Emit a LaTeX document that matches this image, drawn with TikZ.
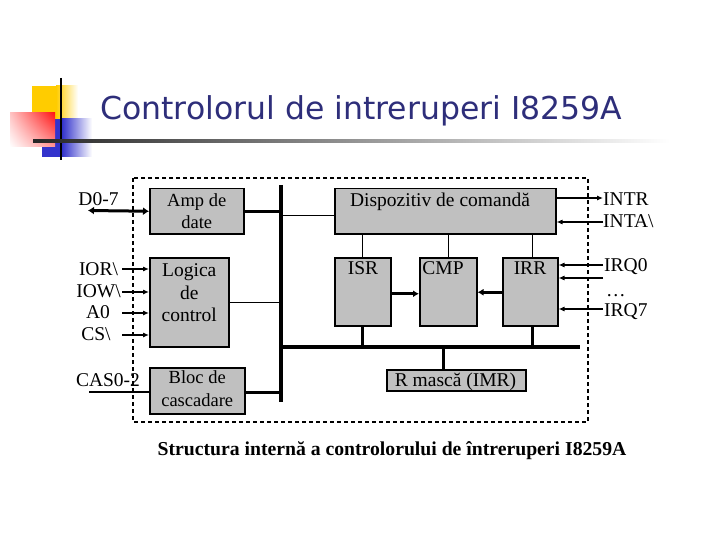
\documentclass[tikz,border=0pt]{standalone}
\usepackage{fontspec}
\setmainfont{Liberation Serif}
\newfontfamily\titlefont{DejaVu Sans}
\usetikzlibrary{arrows.meta,shadings}
\definecolor{boxgray}{RGB}{192,192,192}
\definecolor{titleblue}{RGB}{46,46,122}
\definecolor{sqyellow}{RGB}{255,204,0}
\definecolor{sqblue}{RGB}{51,51,204}
\definecolor{sqred}{RGB}{255,20,20}
\tikzset{
  blk/.style={draw=black, line width=1.5pt, fill=boxgray, inner sep=0pt, anchor=north west},
  txt/.style={inner sep=0pt, font=\fontsize{19.5}{22.8}\selectfont, align=center},
  smalltxt/.style={inner sep=0pt, font=\fontsize{18.5}{22.5}\selectfont, align=center},
  thin/.style={line width=1.1pt},
  thick/.style={line width=3pt},
  bus/.style={line width=4pt},
  sig/.style={line width=1.1pt, -{Latex[length=6pt,width=5pt]}},
  bigarr/.style={line width=3pt, -{Latex[length=6pt,width=7pt]}},
  dblarr/.style={line width=3pt, {Latex[length=6pt,width=8pt]}-{Latex[length=6pt,width=8pt]}},
}
\begin{document}
\begin{tikzpicture}[x=1pt,y=-1pt]
\useasboundingbox (0,0) rectangle (720,540);
% decoration of the title
\fill[sqyellow] (32,86) rectangle (56,119);
\shade[left color=sqyellow, right color=white] (56,86) rectangle (78,119);
\fill[sqblue] (42,119) rectangle (62,157);
\shade[left color=sqblue, right color=white] (62,119) rectangle (92,157);
\shade[upper right=sqred, upper left=sqred!25, lower right=sqred!45, lower left=white] (10,113) rectangle (55,147);
\draw[black, line width=1.3pt] (61,78) -- (61,160);
\shade[left color=black!85, middle color=black!45, right color=white] (33,140) rectangle (670,142.6);
\node[anchor=base west, font=\titlefont\fontsize{31.5}{36}\selectfont, text=titleblue, inner sep=0pt] (title) at (100,120) {Controlorul de intreruperi I8259A};

% frame
\draw[line width=1.2pt, dash pattern=on 4pt off 3pt] (133,178) rectangle (588,422);

% boxes
\node[blk, minimum width=94pt, minimum height=45pt] (amp) at (149,188) {};
\node[smalltxt] at (amp.center) {Amp de\\date};
\node[blk, minimum width=79pt, minimum height=89pt] (log) at (149,257) {};
\node[txt] at ([yshift=9.5pt]log.center) {Logica\\de\\control};
\node[blk, minimum width=95pt, minimum height=46pt] (bloc) at (149,367) {};
\node[smalltxt] at ([yshift=2pt]bloc.center) {Bloc de\\cascadare};
\node[blk, minimum width=221pt, minimum height=45pt] (disp) at (334,188) {};
\node[txt, anchor=base] at (440,206.5) {Dispozitiv de comandă};
\node[blk, minimum width=56pt, minimum height=68pt] (isr) at (334,257) {};
\node[txt, anchor=base] at (363,274.3) {ISR};
\node[blk, minimum width=57pt, minimum height=68pt] (cmp) at (419,257) {};
\node[txt, anchor=base] at (443,274.3) {CMP};
\node[blk, minimum width=55pt, minimum height=68pt] (irr) at (502,257) {};
\node[txt, anchor=base] at (530,274.3) {IRR};
\node[blk, minimum width=139pt, minimum height=21pt] (imr) at (386,369) {};
\node[txt, anchor=base] at (455.5,386.5) {R mască (IMR)};

% buses
\coordinate (vtop) at (281,185);
\coordinate (vbot) at (281,402);
\coordinate (hl) at (281,347);
\coordinate (hr) at (580,347);
\draw[bus] (vtop) -- (vbot);
\draw[bus] (hl) -- (hr);

% connections to bus
\draw[thick] (amp.east) -- (amp.east -| vtop);
\draw[thin] (log.east) -- (log.east -| vtop);
\draw[thick] (bloc.east) ++(0,2) coordinate (bl) -- (bl -| vtop);
\draw[thin] (disp.west) ++(0,4) coordinate (dw) -- (dw -| vtop);
\draw[thin] (isr.north) -- (isr.north |- disp.south);
\draw[thin] (cmp.north) -- (cmp.north |- disp.south);
\draw[thin] (irr.north) ++(2,0) coordinate (irn) -- (irn |- disp.south);
\draw[thick] (isr.south) -- (isr.south |- hl);
\draw[thick] (irr.south) ++(2,0) coordinate (irs) -- (irs |- hl);
\draw[thick] (imr.north) ++(-13,0) coordinate (imn) -- (imn |- hl);
\draw[bigarr] ([yshift=-2pt]isr.east) -- ([yshift=-2pt]isr.east -| cmp.west);
\draw[bigarr] ([yshift=-0.5pt]irr.west) -- ([yshift=-0.5pt]irr.west -| cmp.east);

% left signals
\coordinate (d07) at (88,210.5);
\draw[dblarr] (d07) -- (amp.west);
\node[txt, anchor=base] at (98.5,206) {D0-7};
\coordinate (ior) at (122,269);
\coordinate (iow) at (122,292);
\coordinate (a0) at (122,313);
\coordinate (cs) at (122,335);
\draw[sig] (ior) -- (ior -| log.west);
\draw[sig] (iow) -- (iow -| log.west);
\draw[sig] (a0) -- (a0 -| log.west);
\draw[sig] (cs) -- (cs -| log.west);
\node[txt, anchor=base] at (98.5,275) {IOR\textbackslash};
\node[txt, anchor=base] at (98.5,297) {IOW\textbackslash};
\node[txt, anchor=base] at (98,318) {A0};
\node[txt, anchor=base] at (96,340) {CS\textbackslash};
\coordinate (cas) at (89,392);
\draw[thin] (cas) -- (cas -| bloc.west);
\node[txt, anchor=base] at (108,386) {CAS0-2};

% right signals
\coordinate (intr) at (603,198);
\coordinate (inta) at (603,222);
\coordinate (irq0) at (603,265);
\coordinate (irq1) at (603,278);
\coordinate (irq7) at (603,309);
\draw[sig] (intr -| disp.east) -- (intr);
\draw[sig] (inta) -- (inta -| disp.east);
\draw[sig] (irq0) -- (irq0 -| irr.east);
\draw[sig] (irq1) -- (irq1 -| irr.east);
\draw[sig] (irq7) -- (irq7 -| irr.east);
\node[txt, anchor=base west] at (603,206) {INTR};
\node[txt, anchor=base west] at (603,227) {INTA\textbackslash};
\node[txt, anchor=base west] at (604,271.5) {IRQ0};
\node[txt, anchor=base west] at (606,296.5) {…};
\node[txt, anchor=base west] at (604,316.5) {IRQ7};

% caption
\node[inner sep=0pt, anchor=base, font=\bfseries\fontsize{19.7}{23}\selectfont] (cap) at (392,455) {Structura internă a controlorului de întreruperi I8259A};
\end{tikzpicture}
\end{document}
